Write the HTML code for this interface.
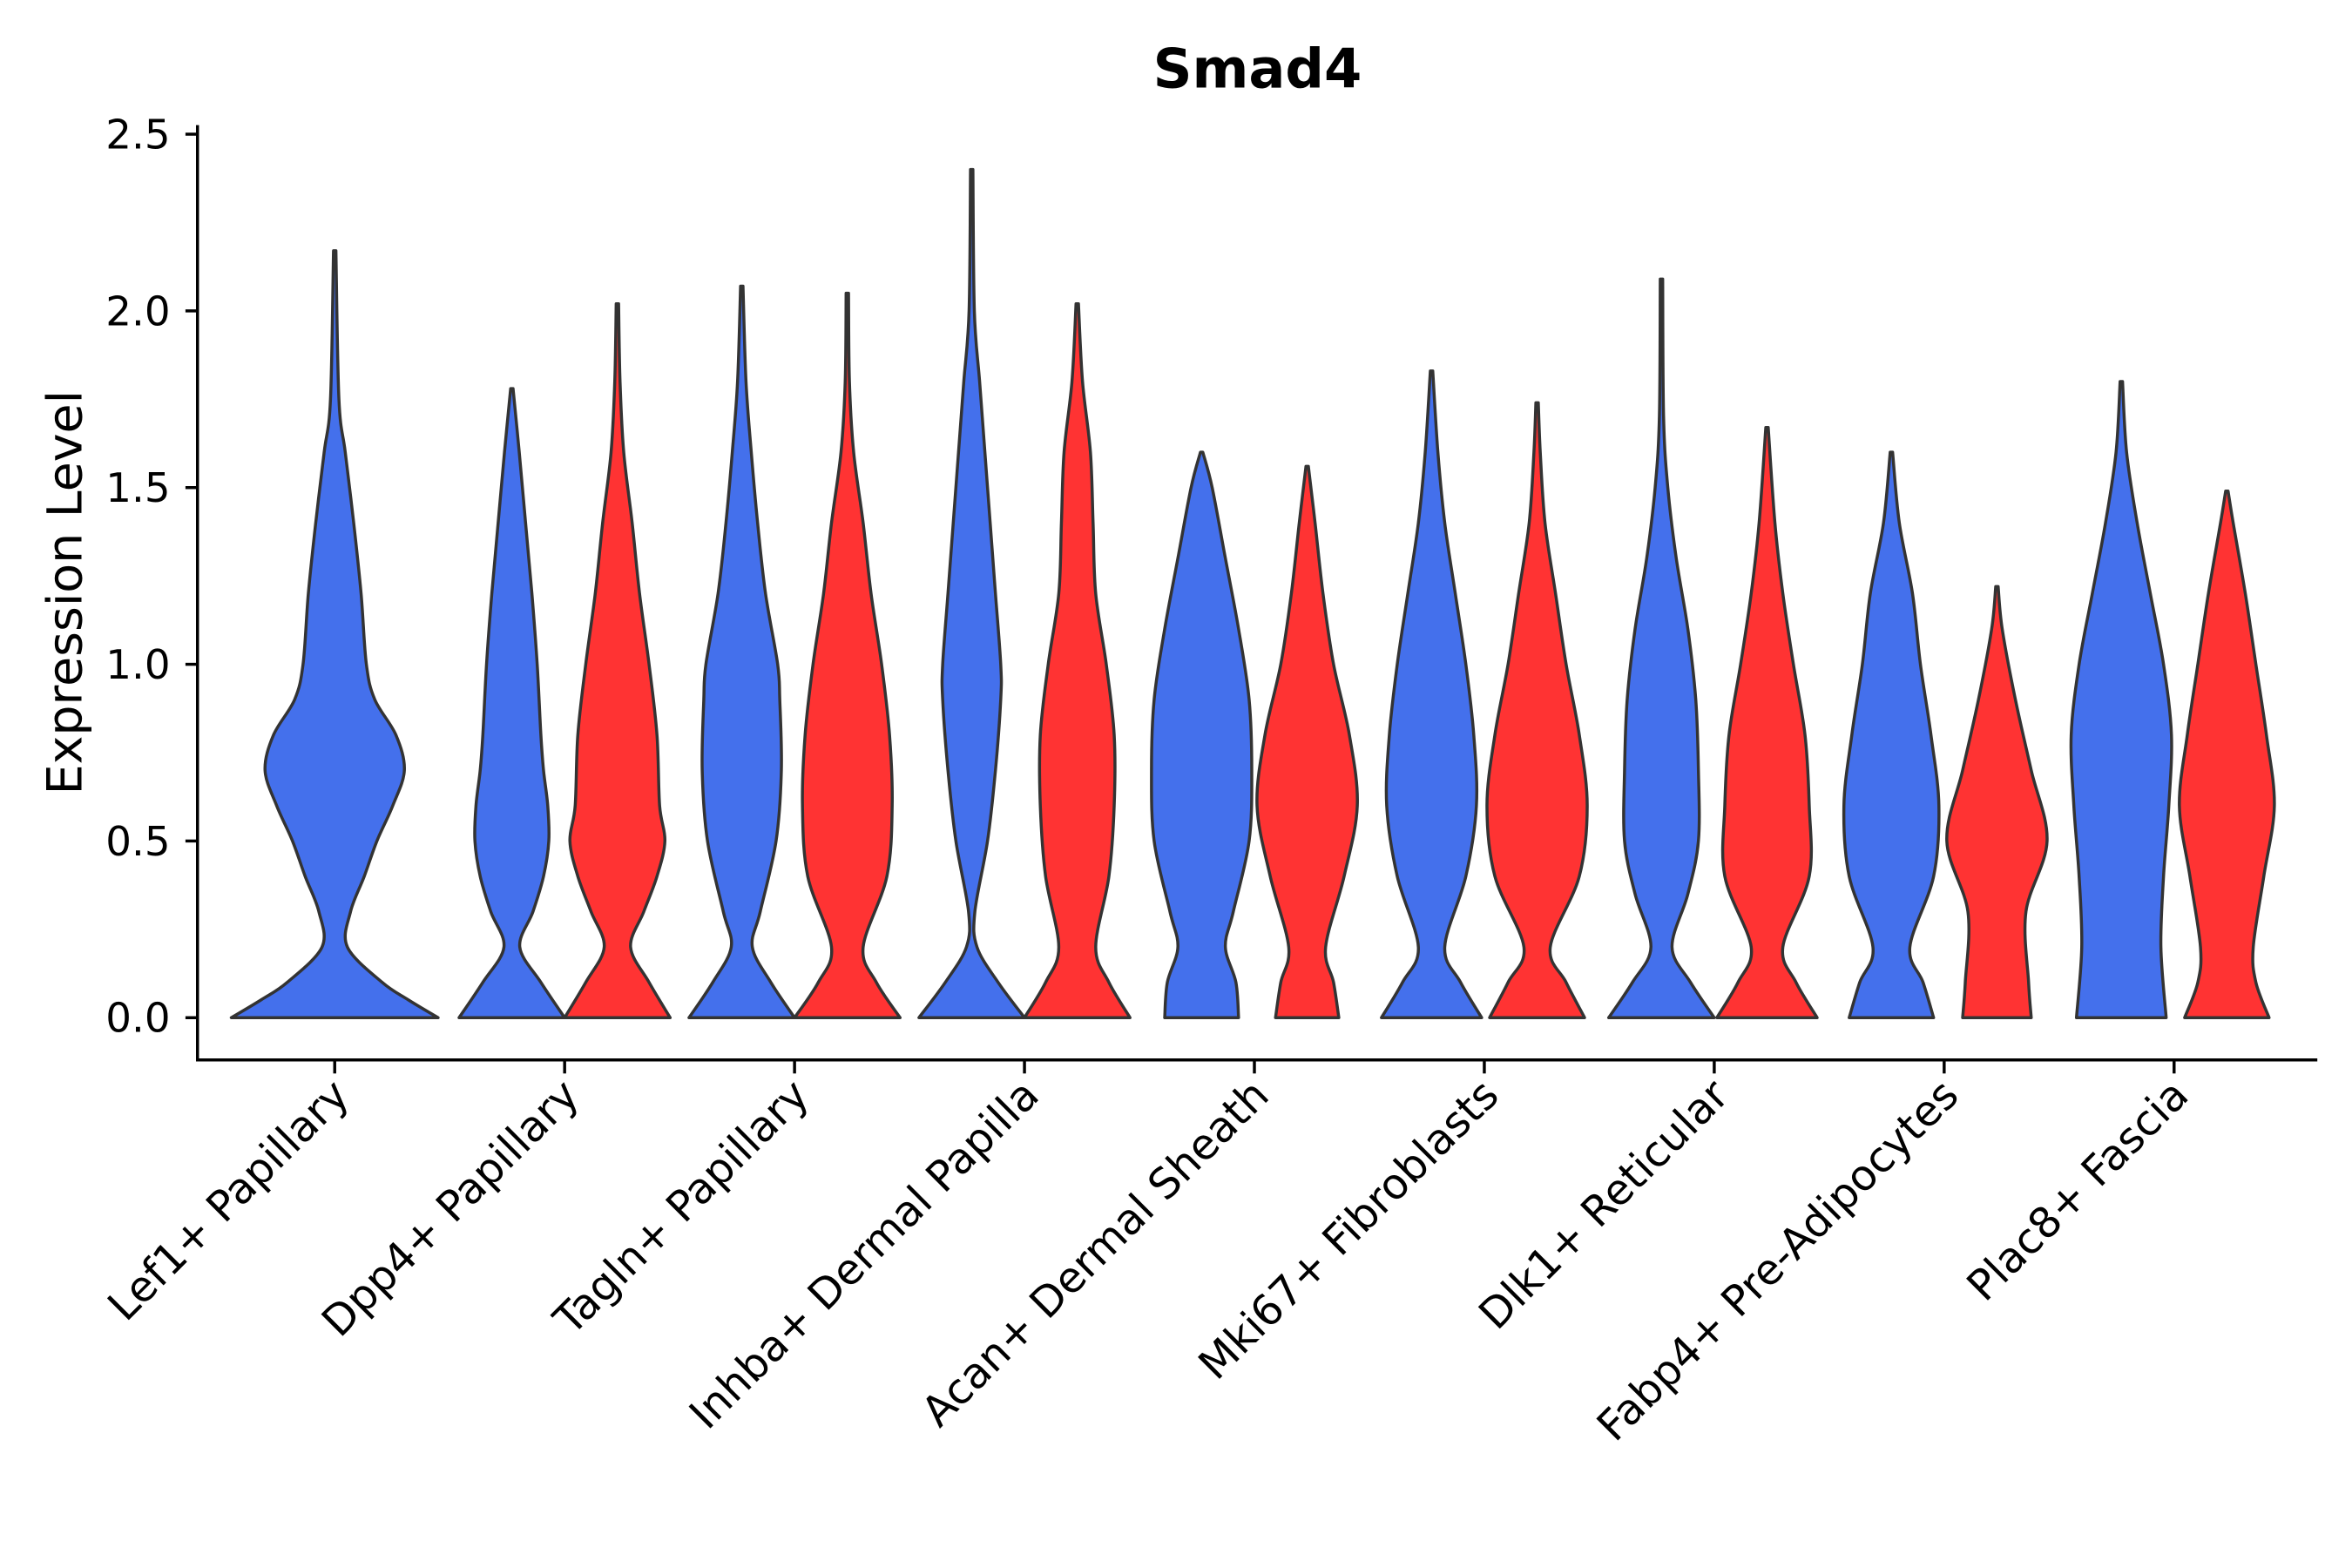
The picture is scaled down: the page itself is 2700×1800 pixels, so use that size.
<!DOCTYPE html>
<html><head><meta charset="utf-8"><style>
html,body{margin:0;padding:0;background:#fff;}
svg{display:block;}
text{font-family:"DejaVu Sans","Liberation Sans",sans-serif;}
</style></head><body>
<svg id="chart" width="2700" height="1800" viewBox="0 0 1560 1040" xmlns="http://www.w3.org/2000/svg">
<text x="834" y="58" text-anchor="middle" font-size="36" font-weight="bold">Smad4</text>
<text transform="translate(54,393) rotate(-90)" text-anchor="middle" font-size="32">Expression Level</text>
<g id="marks"></g>
<g id="axes"></g>
</svg>
<script>
const categories = ["Lef1+ Papillary","Dpp4+ Papillary","Tagln+ Papillary","Inhba+ Dermal Papilla","Acan+ Dermal Sheath","Mki67+ Fibroblasts","Dlk1+ Reticular","Fabp4+ Pre-Adipocytes","Plac8+ Fascia"];
const yTicks = [0, 0.5, 1.0, 1.5, 2.0, 2.5];
const yTickLabels = ["0.0","0.5","1.0","1.5","2.0","2.5"];
// violin density knots: levels (expression) and relative widths
const blueMax = [2.17,1.78,2.07,2.40,1.60,1.83,2.09,1.60,1.80];
const redMax  = [null,2.02,2.05,2.02,1.56,1.74,1.67,1.22,1.49];
const blueLevels = [
 [0,0.05,0.1,0.2,0.3,0.4,0.5,0.6,0.7,0.8,0.9,1.0,1.2,1.4,1.6,1.75],
 [0,0.1,0.2,0.3,0.4,0.5,0.6,0.7,0.8,1.0,1.2,1.4,1.6],
 [0,0.1,0.2,0.3,0.5,0.7,0.9,1.0,1.2,1.4,1.6,1.8],
 [0,0.1,0.2,0.3,0.5,0.7,0.9,1.0,1.2,1.4,1.6,1.8,2.0],
 [0,0.1,0.2,0.3,0.5,0.7,0.9,1.1,1.3,1.5],
 [0,0.1,0.2,0.4,0.6,0.8,1.0,1.2,1.4,1.6],
 [0,0.1,0.2,0.35,0.5,0.7,0.9,1.1,1.3,1.5,1.7],
 [0,0.1,0.2,0.4,0.6,0.8,1.0,1.2,1.4],
 [0,0.2,0.4,0.6,0.8,1.0,1.2,1.4,1.6]
];
const blueWidths = [
 [0.98,0.7,0.45,0.12,0.15,0.28,0.4,0.55,0.66,0.58,0.38,0.3,0.25,0.18,0.1,0.04],
 [1.0,0.55,0.15,0.4,0.6,0.7,0.68,0.6,0.55,0.48,0.38,0.26,0.14],
 [1.0,0.55,0.2,0.35,0.65,0.75,0.72,0.68,0.45,0.3,0.18,0.08],
 [1.0,0.5,0.1,0.06,0.3,0.45,0.55,0.55,0.45,0.35,0.25,0.15,0.05],
 [0.7,0.65,0.45,0.6,0.9,0.95,0.9,0.7,0.45,0.2],
 [0.95,0.55,0.25,0.65,0.85,0.8,0.65,0.45,0.25,0.12],
 [1.0,0.55,0.2,0.5,0.7,0.7,0.65,0.5,0.28,0.12,0.04],
 [0.8,0.6,0.35,0.8,0.9,0.75,0.55,0.4,0.15],
 [0.85,0.75,0.8,0.9,0.95,0.8,0.55,0.3,0.1]
];
const redLevels = [
 null,
 [0,0.1,0.2,0.3,0.4,0.5,0.6,0.8,1.0,1.2,1.4,1.6,1.8],
 [0,0.1,0.2,0.4,0.6,0.8,1.0,1.2,1.4,1.6,1.8],
 [0,0.1,0.2,0.4,0.6,0.8,1.0,1.2,1.4,1.6,1.8],
 [0,0.1,0.2,0.4,0.6,0.8,1.0,1.2,1.4],
 [0,0.1,0.2,0.4,0.6,0.8,1.0,1.2,1.4,1.6],
 [0,0.1,0.2,0.4,0.6,0.8,1.0,1.2,1.4],
 [0,0.1,0.3,0.5,0.7,0.9,1.1],
 [0,0.1,0.2,0.4,0.6,0.8,1.0,1.2,1.4]
];
const redWidths = [
 null,
 [1.0,0.6,0.25,0.5,0.75,0.9,0.8,0.75,0.6,0.42,0.28,0.12,0.05],
 [1.0,0.55,0.3,0.75,0.85,0.8,0.65,0.45,0.3,0.12,0.04],
 [1.0,0.6,0.35,0.6,0.7,0.7,0.55,0.35,0.3,0.25,0.1],
 [0.6,0.5,0.35,0.7,0.95,0.8,0.5,0.3,0.15],
 [0.9,0.55,0.25,0.8,0.95,0.8,0.55,0.35,0.15,0.06],
 [0.95,0.55,0.3,0.8,0.8,0.72,0.5,0.3,0.15],
 [0.65,0.6,0.55,0.95,0.65,0.35,0.1],
 [0.8,0.55,0.5,0.7,0.9,0.75,0.55,0.35,0.12]
];

const X0=222, DX=152.5, HALF=35;
const yScale = v => 675 - v*234.4;
const xScale = i => X0 + i*DX;
const NS="http://www.w3.org/2000/svg";
const marks=document.getElementById('marks');
const axes=document.getElementById('axes');

function smooth(pts){
  let d="M"+pts[0][0].toFixed(2)+","+pts[0][1].toFixed(2);
  for(let i=0;i<pts.length-1;i++){
    const p0=pts[Math.max(0,i-1)],p1=pts[i],p2=pts[i+1],p3=pts[Math.min(pts.length-1,i+2)];
    const c1=[p1[0]+(p2[0]-p0[0])/6,p1[1]+(p2[1]-p0[1])/6];
    const c2=[p2[0]-(p3[0]-p1[0])/6,p2[1]-(p3[1]-p1[1])/6];
    d+="C"+c1[0].toFixed(2)+","+c1[1].toFixed(2)+" "+c2[0].toFixed(2)+","+c2[1].toFixed(2)+" "+p2[0].toFixed(2)+","+p2[1].toFixed(2);
  }
  return d;
}
function violin(cx,half,levels,widths,max,color,name){
  const n=Math.min(levels.length,widths.length);
  const lv=levels.slice(0,n), wd=widths.slice(0,n);
  const right=lv.map((l,i)=>[cx+wd[i]*half,yScale(l)]);
  right.push([cx+0.8,yScale(max)]);
  const left=lv.map((l,i)=>[cx-wd[i]*half,yScale(l)]).reverse();
  left.unshift([cx-0.8,yScale(max)]);
  let d=smooth(right)+" L"+left[0][0].toFixed(2)+","+left[0][1].toFixed(2)+smooth(left).replace(/^M[^C]*/,"")+"Z";
  const p=document.createElementNS(NS,'path');
  p.setAttribute('d',d);
  p.setAttribute('fill',color);
  p.setAttribute('stroke','#333');
  p.setAttribute('stroke-width','2');
  p.setAttribute('stroke-linejoin','round');
  
  
  marks.appendChild(p);
}
categories.forEach((c,i)=>{
  const cx=xScale(i);
  if(redLevels[i]===null){
    violin(cx,HALF*2,blueLevels[i],blueWidths[i],blueMax[i],'#4470EC','violin-blue-'+i);
  } else {
    violin(cx-HALF,HALF,blueLevels[i],blueWidths[i],blueMax[i],'#4470EC','violin-blue-'+i);
    violin(cx+HALF,HALF,redLevels[i],redWidths[i],redMax[i],'#FF3333','violin-red-'+i);
  }
});
function line(x1,y1,x2,y2,name){
  const l=document.createElementNS(NS,'line');
  l.setAttribute('x1',x1);l.setAttribute('y1',y1);l.setAttribute('x2',x2);l.setAttribute('y2',y2);
  l.setAttribute('stroke','#000');l.setAttribute('stroke-width','2');
  
  
  axes.appendChild(l);
}
line(131,83,131,703,'y-axis-line');
line(130,703,1537,703,'x-axis-line');
yTicks.forEach((t,i)=>{
  const y=yScale(t);
  line(123,y,131,y,'y-tick');
  const tx=document.createElementNS(NS,'text');
  tx.setAttribute('x',113);tx.setAttribute('y',y+9.5);
  tx.setAttribute('text-anchor','end');tx.setAttribute('font-size','27');
  tx.textContent=yTickLabels[i];
  
  
  axes.appendChild(tx);
});
categories.forEach((c,i)=>{
  const x=xScale(i);
  line(x,703,x,712,'x-tick');
  const tx=document.createElementNS(NS,'text');
  tx.setAttribute('transform','translate('+(x+11)+',728) rotate(-45)');
  tx.setAttribute('text-anchor','end');tx.setAttribute('font-size','28');
  tx.textContent=c;
  
  
  axes.appendChild(tx);
});
</script>
</body></html>
